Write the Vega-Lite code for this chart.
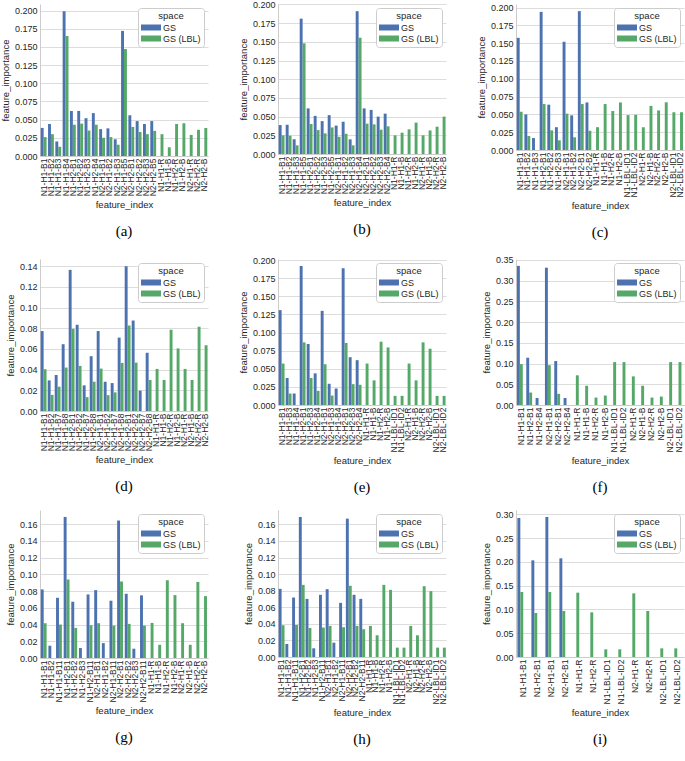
{
"$schema": "https://vega.github.io/schema/vega-lite/v6.json",
"padding": {"left": 0, "top": 0, "right": 0, "bottom": 0},
"background": "white",
"datasets": {
"a": [
{"feature_index":"N1-H1-B1","space":"GS","feature_importance":0.0386},{"feature_index":"N1-H1-B1","space":"GS (LBL)","feature_importance":0.026},
{"feature_index":"N1-H1-B2","space":"GS","feature_importance":0.044},{"feature_index":"N1-H1-B2","space":"GS (LBL)","feature_importance":0.030},
{"feature_index":"N1-H1-B3","space":"GS","feature_importance":0.020},{"feature_index":"N1-H1-B3","space":"GS (LBL)","feature_importance":0.0127},
{"feature_index":"N1-H1-B4","space":"GS","feature_importance":0.199},{"feature_index":"N1-H1-B4","space":"GS (LBL)","feature_importance":0.165},
{"feature_index":"N1-H2-B1","space":"GS","feature_importance":0.062},{"feature_index":"N1-H2-B1","space":"GS (LBL)","feature_importance":0.043},
{"feature_index":"N1-H2-B2","space":"GS","feature_importance":0.062},{"feature_index":"N1-H2-B2","space":"GS (LBL)","feature_importance":0.0445},
{"feature_index":"N1-H2-B3","space":"GS","feature_importance":0.052},{"feature_index":"N1-H2-B3","space":"GS (LBL)","feature_importance":0.035},
{"feature_index":"N1-H2-B4","space":"GS","feature_importance":0.059},{"feature_index":"N1-H2-B4","space":"GS (LBL)","feature_importance":0.043},
{"feature_index":"N2-H1-B1","space":"GS","feature_importance":0.037},{"feature_index":"N2-H1-B1","space":"GS (LBL)","feature_importance":0.025},
{"feature_index":"N2-H1-B2","space":"GS","feature_importance":0.038},{"feature_index":"N2-H1-B2","space":"GS (LBL)","feature_importance":0.026},
{"feature_index":"N2-H1-B3","space":"GS","feature_importance":0.023},{"feature_index":"N2-H1-B3","space":"GS (LBL)","feature_importance":0.0155},
{"feature_index":"N2-H1-B5","space":"GS","feature_importance":0.172},{"feature_index":"N2-H1-B5","space":"GS (LBL)","feature_importance":0.147},
{"feature_index":"N2-H2-B1","space":"GS","feature_importance":0.056},{"feature_index":"N2-H2-B1","space":"GS (LBL)","feature_importance":0.040},
{"feature_index":"N2-H2-B2","space":"GS","feature_importance":0.048},{"feature_index":"N2-H2-B2","space":"GS (LBL)","feature_importance":0.033},
{"feature_index":"N2-H2-B3","space":"GS","feature_importance":0.044},{"feature_index":"N2-H2-B3","space":"GS (LBL)","feature_importance":0.030},
{"feature_index":"N2-H2-B5","space":"GS","feature_importance":0.048},{"feature_index":"N2-H2-B5","space":"GS (LBL)","feature_importance":0.0345},
{"feature_index":"N1-H1-R","space":"GS (LBL)","feature_importance":0.030},
{"feature_index":"N1-H1-B","space":"GS (LBL)","feature_importance":0.012},
{"feature_index":"N1-H2-R","space":"GS (LBL)","feature_importance":0.044},
{"feature_index":"N1-H2-B","space":"GS (LBL)","feature_importance":0.045},
{"feature_index":"N2-H1-R","space":"GS (LBL)","feature_importance":0.029},
{"feature_index":"N2-H2-R","space":"GS (LBL)","feature_importance":0.036},
{"feature_index":"N2-H2-B","space":"GS (LBL)","feature_importance":0.0385}
],
"b": [
{"feature_index":"N1-H1-B1","space":"GS","feature_importance":0.0387},{"feature_index":"N1-H1-B1","space":"GS (LBL)","feature_importance":0.025},
{"feature_index":"N1-H1-B2","space":"GS","feature_importance":0.039},{"feature_index":"N1-H1-B2","space":"GS (LBL)","feature_importance":0.0245},
{"feature_index":"N1-H1-B3","space":"GS","feature_importance":0.0196},{"feature_index":"N1-H1-B3","space":"GS (LBL)","feature_importance":0.0116},
{"feature_index":"N1-H1-B5","space":"GS","feature_importance":0.181},{"feature_index":"N1-H1-B5","space":"GS (LBL)","feature_importance":0.148},
{"feature_index":"N1-H2-B1","space":"GS","feature_importance":0.061},{"feature_index":"N1-H2-B1","space":"GS (LBL)","feature_importance":0.040},
{"feature_index":"N1-H2-B2","space":"GS","feature_importance":0.051},{"feature_index":"N1-H2-B2","space":"GS (LBL)","feature_importance":0.032},
{"feature_index":"N1-H2-B3","space":"GS","feature_importance":0.044},{"feature_index":"N1-H2-B3","space":"GS (LBL)","feature_importance":0.0276},
{"feature_index":"N1-H2-B5","space":"GS","feature_importance":0.052},{"feature_index":"N1-H2-B5","space":"GS (LBL)","feature_importance":0.0355},
{"feature_index":"N2-H1-B1","space":"GS","feature_importance":0.038},{"feature_index":"N2-H1-B1","space":"GS (LBL)","feature_importance":0.023},
{"feature_index":"N2-H1-B2","space":"GS","feature_importance":0.043},{"feature_index":"N2-H1-B2","space":"GS (LBL)","feature_importance":0.027},
{"feature_index":"N2-H1-B3","space":"GS","feature_importance":0.0196},{"feature_index":"N2-H1-B3","space":"GS (LBL)","feature_importance":0.0116},
{"feature_index":"N2-H1-B4","space":"GS","feature_importance":0.191},{"feature_index":"N2-H1-B4","space":"GS (LBL)","feature_importance":0.1555},
{"feature_index":"N2-H2-B1","space":"GS","feature_importance":0.061},{"feature_index":"N2-H2-B1","space":"GS (LBL)","feature_importance":0.0405},
{"feature_index":"N2-H2-B2","space":"GS","feature_importance":0.059},{"feature_index":"N2-H2-B2","space":"GS (LBL)","feature_importance":0.0396},
{"feature_index":"N2-H2-B3","space":"GS","feature_importance":0.050},{"feature_index":"N2-H2-B3","space":"GS (LBL)","feature_importance":0.0325},
{"feature_index":"N2-H2-B4","space":"GS","feature_importance":0.054},{"feature_index":"N2-H2-B4","space":"GS (LBL)","feature_importance":0.037},
{"feature_index":"N1-H1-R","space":"GS (LBL)","feature_importance":0.025},
{"feature_index":"N1-H1-B","space":"GS (LBL)","feature_importance":0.0285},
{"feature_index":"N1-H2-R","space":"GS (LBL)","feature_importance":0.033},
{"feature_index":"N1-H2-B","space":"GS (LBL)","feature_importance":0.042},
{"feature_index":"N2-H1-R","space":"GS (LBL)","feature_importance":0.025},
{"feature_index":"N2-H1-B","space":"GS (LBL)","feature_importance":0.0315},
{"feature_index":"N2-H2-R","space":"GS (LBL)","feature_importance":0.0365},
{"feature_index":"N2-H2-B","space":"GS (LBL)","feature_importance":0.050}
],
"c": [
{"feature_index":"N1-H1-B1","space":"GS","feature_importance":0.1575},{"feature_index":"N1-H1-B1","space":"GS (LBL)","feature_importance":0.0537},
{"feature_index":"N1-H1-B2","space":"GS","feature_importance":0.050},{"feature_index":"N1-H1-B2","space":"GS (LBL)","feature_importance":0.0196},
{"feature_index":"N1-H1-B3","space":"GS","feature_importance":0.0168},
{"feature_index":"N1-H2-B1","space":"GS","feature_importance":0.194},{"feature_index":"N1-H2-B1","space":"GS (LBL)","feature_importance":0.0645},
{"feature_index":"N1-H2-B2","space":"GS","feature_importance":0.0636},{"feature_index":"N1-H2-B2","space":"GS (LBL)","feature_importance":0.0276},
{"feature_index":"N1-H2-B3","space":"GS","feature_importance":0.032},{"feature_index":"N1-H2-B3","space":"GS (LBL)","feature_importance":0.0136},
{"feature_index":"N2-H1-B1","space":"GS","feature_importance":0.152},{"feature_index":"N2-H1-B1","space":"GS (LBL)","feature_importance":0.051},
{"feature_index":"N2-H1-B2","space":"GS","feature_importance":0.0486},{"feature_index":"N2-H1-B2","space":"GS (LBL)","feature_importance":0.0178},
{"feature_index":"N2-H2-B1","space":"GS","feature_importance":0.195},{"feature_index":"N2-H2-B1","space":"GS (LBL)","feature_importance":0.0645},
{"feature_index":"N2-H2-B2","space":"GS","feature_importance":0.0668},{"feature_index":"N2-H2-B2","space":"GS (LBL)","feature_importance":0.027},
{"feature_index":"N1-H1-R","space":"GS (LBL)","feature_importance":0.032},
{"feature_index":"N1-H1-B","space":"GS (LBL)","feature_importance":0.0645},
{"feature_index":"N1-H2-R","space":"GS (LBL)","feature_importance":0.0547},
{"feature_index":"N1-H2-B","space":"GS (LBL)","feature_importance":0.0668},
{"feature_index":"N1-LBL-ID1","space":"GS (LBL)","feature_importance":0.049},
{"feature_index":"N1-LBL-ID2","space":"GS (LBL)","feature_importance":0.0495},
{"feature_index":"N2-H1-R","space":"GS (LBL)","feature_importance":0.032},
{"feature_index":"N2-H1-B","space":"GS (LBL)","feature_importance":0.062},
{"feature_index":"N2-H2-R","space":"GS (LBL)","feature_importance":0.0556},
{"feature_index":"N2-H2-B","space":"GS (LBL)","feature_importance":0.067},
{"feature_index":"N2-LBL-ID1","space":"GS (LBL)","feature_importance":0.053},
{"feature_index":"N2-LBL-ID2","space":"GS (LBL)","feature_importance":0.053}
],
"d": [
{"feature_index":"N1-H1-B1","space":"GS","feature_importance":0.0773},{"feature_index":"N1-H1-B1","space":"GS (LBL)","feature_importance":0.0404},
{"feature_index":"N1-H1-B2","space":"GS","feature_importance":0.0296},{"feature_index":"N1-H1-B2","space":"GS (LBL)","feature_importance":0.0156},
{"feature_index":"N1-H1-B7","space":"GS","feature_importance":0.0347},{"feature_index":"N1-H1-B7","space":"GS (LBL)","feature_importance":0.0235},
{"feature_index":"N1-H1-B8","space":"GS","feature_importance":0.0646},{"feature_index":"N1-H1-B8","space":"GS (LBL)","feature_importance":0.042},
{"feature_index":"N1-H2-B1","space":"GS","feature_importance":0.1365},{"feature_index":"N1-H2-B1","space":"GS (LBL)","feature_importance":0.0795},
{"feature_index":"N1-H2-B2","space":"GS","feature_importance":0.0834},{"feature_index":"N1-H2-B2","space":"GS (LBL)","feature_importance":0.0436},
{"feature_index":"N1-H2-B7","space":"GS","feature_importance":0.0248},{"feature_index":"N1-H2-B7","space":"GS (LBL)","feature_importance":0.0134},
{"feature_index":"N1-H2-B8","space":"GS","feature_importance":0.053},{"feature_index":"N1-H2-B8","space":"GS (LBL)","feature_importance":0.0283},
{"feature_index":"N2-H1-B1","space":"GS","feature_importance":0.0773},{"feature_index":"N2-H1-B1","space":"GS (LBL)","feature_importance":0.041},
{"feature_index":"N2-H1-B2","space":"GS","feature_importance":0.0283},{"feature_index":"N2-H1-B2","space":"GS (LBL)","feature_importance":0.0153},
{"feature_index":"N2-H1-B7","space":"GS","feature_importance":0.027},{"feature_index":"N2-H1-B7","space":"GS (LBL)","feature_importance":0.018},
{"feature_index":"N2-H1-B8","space":"GS","feature_importance":0.071},{"feature_index":"N2-H1-B8","space":"GS (LBL)","feature_importance":0.0465},
{"feature_index":"N2-H2-B1","space":"GS","feature_importance":0.140},{"feature_index":"N2-H2-B1","space":"GS (LBL)","feature_importance":0.0827},
{"feature_index":"N2-H2-B2","space":"GS","feature_importance":0.0875},{"feature_index":"N2-H2-B2","space":"GS (LBL)","feature_importance":0.0468},
{"feature_index":"N2-H2-B7","space":"GS","feature_importance":0.0197},
{"feature_index":"N2-H2-B8","space":"GS","feature_importance":0.0563},{"feature_index":"N2-H2-B8","space":"GS (LBL)","feature_importance":0.030},
{"feature_index":"N1-H1-R","space":"GS (LBL)","feature_importance":0.0407},
{"feature_index":"N1-H1-B","space":"GS (LBL)","feature_importance":0.030},
{"feature_index":"N1-H2-R","space":"GS (LBL)","feature_importance":0.0786},
{"feature_index":"N1-H2-B","space":"GS (LBL)","feature_importance":0.0605},
{"feature_index":"N2-H1-R","space":"GS (LBL)","feature_importance":0.0407},
{"feature_index":"N2-H1-B","space":"GS (LBL)","feature_importance":0.030},
{"feature_index":"N2-H2-R","space":"GS (LBL)","feature_importance":0.0815},
{"feature_index":"N2-H2-B","space":"GS (LBL)","feature_importance":0.0636}
],
"e": [
{"feature_index":"N1-H1-B1","space":"GS","feature_importance":0.131},{"feature_index":"N1-H1-B1","space":"GS (LBL)","feature_importance":0.0572},
{"feature_index":"N1-H1-B3","space":"GS","feature_importance":0.0372},{"feature_index":"N1-H1-B3","space":"GS (LBL)","feature_importance":0.0158},
{"feature_index":"N1-H1-B4","space":"GS","feature_importance":0.0158},
{"feature_index":"N1-H2-B1","space":"GS","feature_importance":0.192},{"feature_index":"N1-H2-B1","space":"GS (LBL)","feature_importance":0.0865},
{"feature_index":"N1-H2-B3","space":"GS","feature_importance":0.0842},{"feature_index":"N1-H2-B3","space":"GS (LBL)","feature_importance":0.0372},
{"feature_index":"N1-H2-B4","space":"GS","feature_importance":0.0437},{"feature_index":"N1-H2-B4","space":"GS (LBL)","feature_importance":0.0195},
{"feature_index":"N2-H1-B1","space":"GS","feature_importance":0.130},{"feature_index":"N2-H1-B1","space":"GS (LBL)","feature_importance":0.0563},
{"feature_index":"N2-H1-B3","space":"GS","feature_importance":0.0293},{"feature_index":"N2-H1-B3","space":"GS (LBL)","feature_importance":0.013},
{"feature_index":"N2-H1-B4","space":"GS","feature_importance":0.0228},
{"feature_index":"N2-H2-B1","space":"GS","feature_importance":0.189},{"feature_index":"N2-H2-B1","space":"GS (LBL)","feature_importance":0.0856},
{"feature_index":"N2-H2-B3","space":"GS","feature_importance":0.066},{"feature_index":"N2-H2-B3","space":"GS (LBL)","feature_importance":0.0288},
{"feature_index":"N2-H2-B4","space":"GS","feature_importance":0.0619},{"feature_index":"N2-H2-B4","space":"GS (LBL)","feature_importance":0.0279},
{"feature_index":"N1-H1-R","space":"GS (LBL)","feature_importance":0.0572},
{"feature_index":"N1-H1-B","space":"GS (LBL)","feature_importance":0.034},
{"feature_index":"N1-H2-R","space":"GS (LBL)","feature_importance":0.0874},
{"feature_index":"N1-H2-B","space":"GS (LBL)","feature_importance":0.0795},
{"feature_index":"N1-LBL-ID1","space":"GS (LBL)","feature_importance":0.0126},
{"feature_index":"N1-LBL-ID2","space":"GS (LBL)","feature_importance":0.0126},
{"feature_index":"N2-H1-R","space":"GS (LBL)","feature_importance":0.0572},
{"feature_index":"N2-H1-B","space":"GS (LBL)","feature_importance":0.034},
{"feature_index":"N2-H2-R","space":"GS (LBL)","feature_importance":0.0865},
{"feature_index":"N2-H2-B","space":"GS (LBL)","feature_importance":0.0777},
{"feature_index":"N2-LBL-ID1","space":"GS (LBL)","feature_importance":0.0126},
{"feature_index":"N2-LBL-ID2","space":"GS (LBL)","feature_importance":0.0126}
],
"f": [
{"feature_index":"N1-H1-B1","space":"GS","feature_importance":0.3354},{"feature_index":"N1-H1-B1","space":"GS (LBL)","feature_importance":0.0985},
{"feature_index":"N1-H2-B1","space":"GS","feature_importance":0.114},{"feature_index":"N1-H2-B1","space":"GS (LBL)","feature_importance":0.030},
{"feature_index":"N1-H2-B4","space":"GS","feature_importance":0.017},
{"feature_index":"N2-H1-B1","space":"GS","feature_importance":0.331},{"feature_index":"N2-H1-B1","space":"GS (LBL)","feature_importance":0.096},
{"feature_index":"N2-H2-B1","space":"GS","feature_importance":0.106},{"feature_index":"N2-H2-B1","space":"GS (LBL)","feature_importance":0.0269},
{"feature_index":"N2-H2-B4","space":"GS","feature_importance":0.017},
{"feature_index":"N1-H1-R","space":"GS (LBL)","feature_importance":0.0716},
{"feature_index":"N1-H1-B","space":"GS (LBL)","feature_importance":0.0464},
{"feature_index":"N1-H2-R","space":"GS (LBL)","feature_importance":0.0179},
{"feature_index":"N1-H2-B","space":"GS (LBL)","feature_importance":0.0228},
{"feature_index":"N1-LBL-ID1","space":"GS (LBL)","feature_importance":0.1034},
{"feature_index":"N1-LBL-ID2","space":"GS (LBL)","feature_importance":0.1034},
{"feature_index":"N2-H1-R","space":"GS (LBL)","feature_importance":0.069},
{"feature_index":"N2-H1-B","space":"GS (LBL)","feature_importance":0.0464},
{"feature_index":"N2-H2-R","space":"GS (LBL)","feature_importance":0.0179},
{"feature_index":"N2-H2-B","space":"GS (LBL)","feature_importance":0.0203},
{"feature_index":"N2-LBL-ID1","space":"GS (LBL)","feature_importance":0.1034},
{"feature_index":"N2-LBL-ID2","space":"GS (LBL)","feature_importance":0.1034}
],
"g": [
{"feature_index":"N1-H1-B1","space":"GS","feature_importance":0.082},{"feature_index":"N1-H1-B1","space":"GS (LBL)","feature_importance":0.0416},
{"feature_index":"N1-H1-B2","space":"GS","feature_importance":0.0147},
{"feature_index":"N1-H1-B11","space":"GS","feature_importance":0.072},{"feature_index":"N1-H1-B11","space":"GS (LBL)","feature_importance":0.040},
{"feature_index":"N1-H2-B1","space":"GS","feature_importance":0.1687},{"feature_index":"N1-H2-B1","space":"GS (LBL)","feature_importance":0.0939},
{"feature_index":"N1-H2-B2","space":"GS","feature_importance":0.0673},{"feature_index":"N1-H2-B2","space":"GS (LBL)","feature_importance":0.036},
{"feature_index":"N1-H2-B3","space":"GS","feature_importance":0.0119},
{"feature_index":"N1-H2-B11","space":"GS","feature_importance":0.076},{"feature_index":"N1-H2-B11","space":"GS (LBL)","feature_importance":0.0392},
{"feature_index":"N2-H1-B1","space":"GS","feature_importance":0.0812},{"feature_index":"N2-H1-B1","space":"GS (LBL)","feature_importance":0.0416},
{"feature_index":"N2-H1-B2","space":"GS","feature_importance":0.0178},
{"feature_index":"N2-H1-B11","space":"GS","feature_importance":0.0685},{"feature_index":"N2-H1-B11","space":"GS (LBL)","feature_importance":0.0388},
{"feature_index":"N2-H2-B1","space":"GS","feature_importance":0.1644},{"feature_index":"N2-H2-B1","space":"GS (LBL)","feature_importance":0.0915},
{"feature_index":"N2-H2-B2","space":"GS","feature_importance":0.0768},{"feature_index":"N2-H2-B2","space":"GS (LBL)","feature_importance":0.0408},
{"feature_index":"N2-H2-B3","space":"GS","feature_importance":0.0111},
{"feature_index":"N2-H2-B11","space":"GS","feature_importance":0.0749},{"feature_index":"N2-H2-B11","space":"GS (LBL)","feature_importance":0.0388},
{"feature_index":"N1-H1-R","space":"GS (LBL)","feature_importance":0.042},
{"feature_index":"N1-H1-B","space":"GS (LBL)","feature_importance":0.0158},
{"feature_index":"N1-H2-R","space":"GS (LBL)","feature_importance":0.093},
{"feature_index":"N1-H2-B","space":"GS (LBL)","feature_importance":0.0752},
{"feature_index":"N2-H1-R","space":"GS (LBL)","feature_importance":0.0416},
{"feature_index":"N2-H1-B","space":"GS (LBL)","feature_importance":0.0158},
{"feature_index":"N2-H2-R","space":"GS (LBL)","feature_importance":0.091},
{"feature_index":"N2-H2-B","space":"GS (LBL)","feature_importance":0.074}
],
"h": [
{"feature_index":"N1-H1-B1","space":"GS","feature_importance":0.0822},{"feature_index":"N1-H1-B1","space":"GS (LBL)","feature_importance":0.0383},
{"feature_index":"N1-H1-B2","space":"GS","feature_importance":0.0157},
{"feature_index":"N1-H1-B11","space":"GS","feature_importance":0.0717},{"feature_index":"N1-H1-B11","space":"GS (LBL)","feature_importance":0.0387},
{"feature_index":"N1-H2-B1","space":"GS","feature_importance":0.1689},{"feature_index":"N1-H2-B1","space":"GS (LBL)","feature_importance":0.087},
{"feature_index":"N1-H2-B2","space":"GS","feature_importance":0.0701},{"feature_index":"N1-H2-B2","space":"GS (LBL)","feature_importance":0.035},
{"feature_index":"N1-H2-B3","space":"GS","feature_importance":0.0105},
{"feature_index":"N1-H2-B11","space":"GS","feature_importance":0.075},{"feature_index":"N1-H2-B11","space":"GS (LBL)","feature_importance":0.0355},
{"feature_index":"N2-H1-B1","space":"GS","feature_importance":0.0818},{"feature_index":"N2-H1-B1","space":"GS (LBL)","feature_importance":0.0375},
{"feature_index":"N2-H1-B2","space":"GS","feature_importance":0.0173},
{"feature_index":"N2-H1-B11","space":"GS","feature_importance":0.0653},{"feature_index":"N2-H1-B11","space":"GS (LBL)","feature_importance":0.0359},
{"feature_index":"N2-H2-B1","space":"GS","feature_importance":0.1669},{"feature_index":"N2-H2-B1","space":"GS (LBL)","feature_importance":0.0859},
{"feature_index":"N2-H2-B2","space":"GS","feature_importance":0.075},{"feature_index":"N2-H2-B2","space":"GS (LBL)","feature_importance":0.0375},
{"feature_index":"N2-H2-B11","space":"GS","feature_importance":0.0701},{"feature_index":"N2-H2-B11","space":"GS (LBL)","feature_importance":0.0335},
{"feature_index":"N1-H1-R","space":"GS (LBL)","feature_importance":0.0375},
{"feature_index":"N1-H1-B","space":"GS (LBL)","feature_importance":0.0262},
{"feature_index":"N1-H2-R","space":"GS (LBL)","feature_importance":0.087},
{"feature_index":"N1-H2-B","space":"GS (LBL)","feature_importance":0.081},
{"feature_index":"N1-LBL-ID1","space":"GS (LBL)","feature_importance":0.0113},
{"feature_index":"N1-LBL-ID2","space":"GS (LBL)","feature_importance":0.0113},
{"feature_index":"N2-H1-R","space":"GS (LBL)","feature_importance":0.0375},
{"feature_index":"N2-H1-B","space":"GS (LBL)","feature_importance":0.0262},
{"feature_index":"N2-H2-R","space":"GS (LBL)","feature_importance":0.0854},
{"feature_index":"N2-H2-B","space":"GS (LBL)","feature_importance":0.0794},
{"feature_index":"N2-LBL-ID1","space":"GS (LBL)","feature_importance":0.0113},
{"feature_index":"N2-LBL-ID2","space":"GS (LBL)","feature_importance":0.0113}
],
"i": [
{"feature_index":"N1-H1-B1","space":"GS","feature_importance":0.2922},{"feature_index":"N1-H1-B1","space":"GS (LBL)","feature_importance":0.1367},
{"feature_index":"N1-H2-B1","space":"GS","feature_importance":0.2032},{"feature_index":"N1-H2-B1","space":"GS (LBL)","feature_importance":0.0925},
{"feature_index":"N2-H1-B1","space":"GS","feature_importance":0.2943},{"feature_index":"N2-H1-B1","space":"GS (LBL)","feature_importance":0.1367},
{"feature_index":"N2-H2-B1","space":"GS","feature_importance":0.2074},{"feature_index":"N2-H2-B1","space":"GS (LBL)","feature_importance":0.0967},
{"feature_index":"N1-H1-R","space":"GS (LBL)","feature_importance":0.1352},
{"feature_index":"N1-H2-R","space":"GS (LBL)","feature_importance":0.0939},
{"feature_index":"N1-LBL-ID1","space":"GS (LBL)","feature_importance":0.0161},
{"feature_index":"N1-LBL-ID2","space":"GS (LBL)","feature_importance":0.0161},
{"feature_index":"N2-H1-R","space":"GS (LBL)","feature_importance":0.1338},
{"feature_index":"N2-H2-R","space":"GS (LBL)","feature_importance":0.0967},
{"feature_index":"N2-LBL-ID1","space":"GS (LBL)","feature_importance":0.0182},
{"feature_index":"N2-LBL-ID2","space":"GS (LBL)","feature_importance":0.0182}
]
},
"columns": 3,
"spacing": {"row": 14, "column": 29},
"resolve": {"scale": {"y": "independent", "x": "independent"}, "legend": {"color": "independent"}},
"concat": [
{"data": {"name": "a"}, "width": 168, "height": 152, "title": "(a)", "mark": "bar",
 "encoding": {
  "x": {"field": "feature_index", "type": "nominal", "sort": null, "scale": {"paddingInner": 0.2, "paddingOuter": 0.1}},
  "xOffset": {"field": "space", "type": "nominal", "scale": {"domain": ["GS", "GS (LBL)"]}},
  "y": {"field": "feature_importance", "type": "quantitative", "scale": {"domain": [0, 0.209], "nice": false}, "axis": {"values": [0, 0.025, 0.05, 0.075, 0.1, 0.125, 0.15, 0.175, 0.2], "format": ".3f"}},
  "color": {"field": "space", "type": "nominal", "scale": {"domain": ["GS", "GS (LBL)"], "range": ["#4c72b0", "#55a868"]}}}},
{"data": {"name": "b"}, "width": 168, "height": 150, "title": "(b)", "mark": "bar",
 "encoding": {
  "x": {"field": "feature_index", "type": "nominal", "sort": null, "scale": {"paddingInner": 0.2, "paddingOuter": 0.1}},
  "xOffset": {"field": "space", "type": "nominal", "scale": {"domain": ["GS", "GS (LBL)"]}},
  "y": {"field": "feature_importance", "type": "quantitative", "scale": {"domain": [0, 0.2006], "nice": false}, "axis": {"values": [0, 0.025, 0.05, 0.075, 0.1, 0.125, 0.15, 0.175, 0.2], "format": ".3f"}},
  "color": {"field": "space", "type": "nominal", "scale": {"domain": ["GS", "GS (LBL)"], "range": ["#4c72b0", "#55a868"]}}}},
{"data": {"name": "c"}, "width": 168, "height": 146, "title": "(c)", "mark": "bar",
 "encoding": {
  "x": {"field": "feature_index", "type": "nominal", "sort": null, "scale": {"paddingInner": 0.2, "paddingOuter": 0.1}},
  "xOffset": {"field": "space", "type": "nominal", "scale": {"domain": ["GS", "GS (LBL)"]}},
  "y": {"field": "feature_importance", "type": "quantitative", "scale": {"domain": [0, 0.205], "nice": false}, "axis": {"values": [0, 0.025, 0.05, 0.075, 0.1, 0.125, 0.15, 0.175, 0.2], "format": ".3f"}},
  "color": {"field": "space", "type": "nominal", "scale": {"domain": ["GS", "GS (LBL)"], "range": ["#4c72b0", "#55a868"]}}}},
{"data": {"name": "d"}, "width": 168, "height": 152, "title": "(d)", "mark": "bar",
 "encoding": {
  "x": {"field": "feature_index", "type": "nominal", "sort": null, "scale": {"paddingInner": 0.2, "paddingOuter": 0.1}},
  "xOffset": {"field": "space", "type": "nominal", "scale": {"domain": ["GS", "GS (LBL)"]}},
  "y": {"field": "feature_importance", "type": "quantitative", "scale": {"domain": [0, 0.147], "nice": false}, "axis": {"values": [0, 0.02, 0.04, 0.06, 0.08, 0.1, 0.12, 0.14], "format": ".2f"}},
  "color": {"field": "space", "type": "nominal", "scale": {"domain": ["GS", "GS (LBL)"], "range": ["#4c72b0", "#55a868"]}}}},
{"data": {"name": "e"}, "width": 168, "height": 146, "title": "(e)", "mark": "bar",
 "encoding": {
  "x": {"field": "feature_index", "type": "nominal", "sort": null, "scale": {"paddingInner": 0.2, "paddingOuter": 0.1}},
  "xOffset": {"field": "space", "type": "nominal", "scale": {"domain": ["GS", "GS (LBL)"]}},
  "y": {"field": "feature_importance", "type": "quantitative", "scale": {"domain": [0, 0.2016], "nice": false}, "axis": {"values": [0, 0.025, 0.05, 0.075, 0.1, 0.125, 0.15, 0.175, 0.2], "format": ".3f"}},
  "color": {"field": "space", "type": "nominal", "scale": {"domain": ["GS", "GS (LBL)"], "range": ["#4c72b0", "#55a868"]}}}},
{"data": {"name": "f"}, "width": 168, "height": 146, "title": "(f)", "mark": "bar",
 "encoding": {
  "x": {"field": "feature_index", "type": "nominal", "sort": null, "scale": {"paddingInner": 0.2, "paddingOuter": 0.1}},
  "xOffset": {"field": "space", "type": "nominal", "scale": {"domain": ["GS", "GS (LBL)"]}},
  "y": {"field": "feature_importance", "type": "quantitative", "scale": {"domain": [0, 0.352], "nice": false}, "axis": {"values": [0, 0.05, 0.1, 0.15, 0.2, 0.25, 0.3, 0.35], "format": ".2f"}},
  "color": {"field": "space", "type": "nominal", "scale": {"domain": ["GS", "GS (LBL)"], "range": ["#4c72b0", "#55a868"]}}}},
{"data": {"name": "g"}, "width": 168, "height": 148, "title": "(g)", "mark": "bar",
 "encoding": {
  "x": {"field": "feature_index", "type": "nominal", "sort": null, "scale": {"paddingInner": 0.2, "paddingOuter": 0.1}},
  "xOffset": {"field": "space", "type": "nominal", "scale": {"domain": ["GS", "GS (LBL)"]}},
  "y": {"field": "feature_importance", "type": "quantitative", "scale": {"domain": [0, 0.177], "nice": false}, "axis": {"values": [0, 0.02, 0.04, 0.06, 0.08, 0.1, 0.12, 0.14, 0.16], "format": ".2f"}},
  "color": {"field": "space", "type": "nominal", "scale": {"domain": ["GS", "GS (LBL)"], "range": ["#4c72b0", "#55a868"]}}}},
{"data": {"name": "h"}, "width": 168, "height": 147, "title": "(h)", "mark": "bar",
 "encoding": {
  "x": {"field": "feature_index", "type": "nominal", "sort": null, "scale": {"paddingInner": 0.2, "paddingOuter": 0.1}},
  "xOffset": {"field": "space", "type": "nominal", "scale": {"domain": ["GS", "GS (LBL)"]}},
  "y": {"field": "feature_importance", "type": "quantitative", "scale": {"domain": [0, 0.1773], "nice": false}, "axis": {"values": [0, 0.02, 0.04, 0.06, 0.08, 0.1, 0.12, 0.14, 0.16], "format": ".2f"}},
  "color": {"field": "space", "type": "nominal", "scale": {"domain": ["GS", "GS (LBL)"], "range": ["#4c72b0", "#55a868"]}}}},
{"data": {"name": "i"}, "width": 168, "height": 147, "title": "(i)", "mark": "bar",
 "encoding": {
  "x": {"field": "feature_index", "type": "nominal", "sort": null, "scale": {"paddingInner": 0.2, "paddingOuter": 0.1}},
  "xOffset": {"field": "space", "type": "nominal", "scale": {"domain": ["GS", "GS (LBL)"]}},
  "y": {"field": "feature_importance", "type": "quantitative", "scale": {"domain": [0, 0.309], "nice": false}, "axis": {"values": [0, 0.05, 0.1, 0.15, 0.2, 0.25, 0.3], "format": ".2f"}},
  "color": {"field": "space", "type": "nominal", "scale": {"domain": ["GS", "GS (LBL)"], "range": ["#4c72b0", "#55a868"]}}}}
],
"config": {
 "font": "Liberation Sans",
 "view": {"stroke": null},
 "axis": {"labelFont": "Liberation Sans", "titleFont": "Liberation Sans", "labelFontSize": 9, "titleFontSize": 9.5, "titleFontWeight": "normal", "labelColor": "#262626", "titleColor": "#262626", "domainColor": "#cccccc", "gridColor": "#dddddd", "ticks": false, "labelPadding": 3, "titlePadding": 4},
 "axisX": {"grid": false, "labelAngle": 270, "labelPadding": 2, "labelFontSize": 8.5},
 "axisY": {"grid": true},
 "legend": {"orient": "top-right", "offset": 4, "padding": 3, "fillColor": "white", "strokeColor": "#cccccc", "cornerRadius": 3, "titleAnchor": "middle", "titleFont": "Liberation Sans", "titleFontSize": 9.5, "titleFontWeight": "normal", "titleColor": "#262626", "titlePadding": 2, "labelFont": "Liberation Sans", "labelFontSize": 9, "labelColor": "#262626", "symbolType": "M-1,-0.6L3,-0.6L3,0.6L-1,0.6Z", "symbolSize": 100, "symbolStrokeWidth": 0, "rowPadding": 1, "labelOffset": 12},
 "title": {"orient": "bottom", "anchor": "middle", "frame": "group", "font": "Liberation Serif", "fontSize": 15, "fontWeight": "normal", "color": "#000000", "offset": 15}
}
}
